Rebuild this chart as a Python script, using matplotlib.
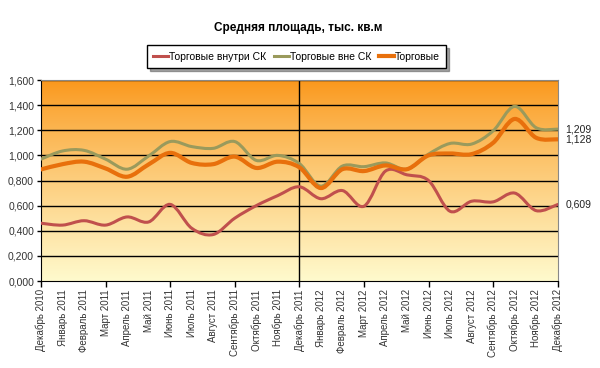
import numpy as np
import matplotlib
matplotlib.use('Agg')
import matplotlib.pyplot as plt
from matplotlib.path import Path
from matplotlib.patches import PathPatch
from matplotlib.lines import Line2D

plt.rcParams['font.family'] = ['Liberation Sans', 'DejaVu Sans']

months = ['Декабрь 2010', 'Январь 2011', 'Февраль 2011', 'Март 2011', 'Апрель 2011',
          'Май 2011', 'Июнь 2011', 'Июль 2011', 'Август 2011', 'Сентябрь 2011',
          'Октябрь 2011', 'Ноябрь 2011', 'Декабрь 2011', 'Январь 2012', 'Февраль 2012',
          'Март 2012', 'Апрель 2012', 'Май 2012', 'Июнь 2012', 'Июль 2012',
          'Август 2012', 'Сентябрь 2012', 'Октябрь 2012', 'Ноябрь 2012', 'Декабрь 2012']

inside_sc = [0.46, 0.445, 0.48, 0.445, 0.51, 0.47, 0.61, 0.42, 0.37, 0.50, 0.60, 0.68, 0.75,
             0.655, 0.72, 0.595, 0.875, 0.845, 0.80, 0.555, 0.635, 0.63, 0.70, 0.56, 0.609]
outside_sc = [0.97, 1.035, 1.04, 0.97, 0.89, 0.995, 1.11, 1.07, 1.056, 1.11, 0.96, 1.00, 0.935,
              0.755, 0.915, 0.91, 0.94, 0.89, 1.01, 1.095, 1.09, 1.195, 1.39, 1.22, 1.209]
trade = [0.888, 0.93, 0.95, 0.896, 0.83, 0.928, 1.02, 0.94, 0.93, 0.99, 0.90, 0.95, 0.905,
         0.74, 0.89, 0.875, 0.92, 0.89, 1.00, 1.015, 1.01, 1.10, 1.29, 1.14, 1.128]

names = ['Торговые внутри СК', 'Торговые вне СК', 'Торговые']
colors = ['#C0504D', '#9A9A5C', '#E8700C']
widths = [2.2, 2.2, 3.0]


def smooth_path(x, y):
    # Excel-style smoothed line: cubic Bezier with Catmull-Rom tangents
    x = np.asarray(x, float)
    y = np.asarray(y, float)
    verts = [(x[0], y[0])]
    codes = [Path.MOVETO]
    n = len(x)
    for i in range(n - 1):
        x0, y0 = (x[i - 1], y[i - 1]) if i > 0 else (x[i], y[i])
        x3, y3 = (x[i + 2], y[i + 2]) if i + 2 < n else (x[i + 1], y[i + 1])
        c1 = (x[i] + (x[i + 1] - x0) / 6, y[i] + (y[i + 1] - y0) / 6)
        c2 = (x[i + 1] - (x3 - x[i]) / 6, y[i + 1] - (y3 - y[i]) / 6)
        verts += [c1, c2, (x[i + 1], y[i + 1])]
        codes += [Path.CURVE4] * 3
    return Path(verts, codes)


fig = plt.figure(figsize=(6, 3.68), dpi=100)
ax = fig.add_axes([0.0683, 0.2364, 0.8612, 0.5462])
xs = np.arange(len(months))

# background gradient
grad = np.linspace(0, 1, 256).reshape(-1, 1)
top = np.array([250, 150, 25]) / 255
bot = np.array([255, 250, 205]) / 255
img = top + (bot - top) * grad[:, :, None] ** 0.85
ax.imshow(img, extent=[0, 24, 0, 1.6], aspect='auto', origin='upper', zorder=0)

for v in np.arange(0.2, 1.61, 0.2):
    ax.axhline(v, color='black', lw=1, zorder=1)
ax.axvline(12, color='black', lw=1, zorder=1)

handles = []
for ys, c, w, nm in zip([inside_sc, outside_sc, trade], colors, widths, names):
    ax.add_patch(PathPatch(smooth_path(xs, ys), fill=False, edgecolor=c, lw=w,
                           capstyle='round', joinstyle='round', zorder=3))
    handles.append(Line2D([], [], color=c, lw=w, label=nm))

for ys in [outside_sc, trade, inside_sc]:
    ax.text(24.35, ys[-1], f'{ys[-1]:.3f}'.replace('.', ','), fontsize=7.5,
            color='#222222', va='center', ha='left')

ax.set_xlim(0, 24)
ax.set_ylim(0, 1.6)
yt = np.arange(0, 1.61, 0.2)
ax.set_yticks(yt)
ax.set_yticklabels([f'{v:.3f}'.replace('.', ',') for v in yt], fontsize=7.5, color='#333333')
ax.tick_params(axis='y', length=3, width=1, color='black', pad=2)

ax.set_xticks(xs)
ax.set_xticklabels(months, rotation=90, fontsize=7, color='#333333')
ax.tick_params(axis='x', which='major', length=0, pad=6)
ax.set_xticks(xs[::3], minor=True)
ax.xaxis.remove_overlapping_locs = False
ax.tick_params(axis='x', which='minor', length=4, width=1, color='black')

ax.spines['left'].set_color('black')
ax.spines['bottom'].set_color('black')
ax.spines['top'].set_color('#888888')
ax.spines['right'].set_color('#888888')

fig.text(0.497, 0.925, 'Средняя площадь, тыс. кв.м', ha='center', va='center',
         fontsize=8.5, fontweight='bold')

leg = fig.legend(handles=handles, loc='center', bbox_to_anchor=(0.4942, 0.846), ncol=3,
                 fontsize=7.5, frameon=True, fancybox=False, shadow=True,
                 handlelength=1.4, handletextpad=0.1, columnspacing=0.8,
                 borderpad=0.6, edgecolor='black')
leg.get_frame().set_linewidth(1)

fig.savefig('out.png', dpi=100, facecolor='white')
